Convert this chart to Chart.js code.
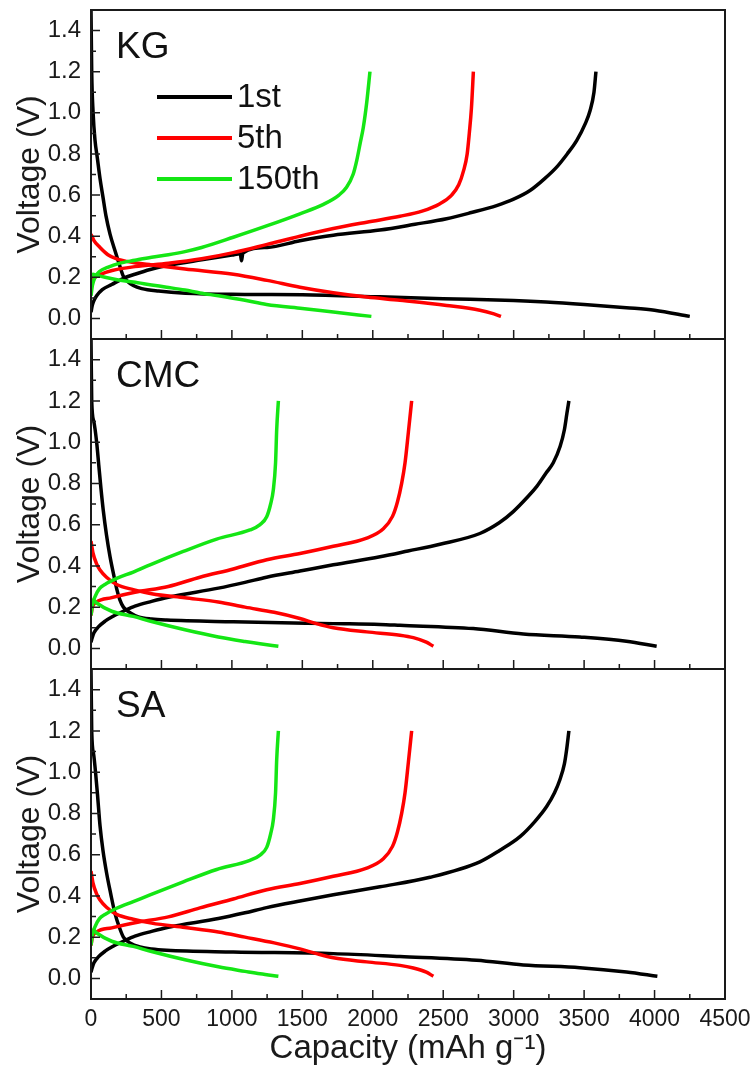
<!DOCTYPE html>
<html>
<head>
<meta charset="utf-8">
<title>Voltage profiles</title>
<script src="https://cdn.jsdelivr.net/npm/chart.js@4.4.1/dist/chart.umd.min.js"></script>
<style>
  html, body { margin: 0; padding: 0; background: #fff; }
  #page { position: relative; width: 756px; height: 1074px; }
  .panel { position: absolute; left: 0; width: 756px; }
</style>
</head>
<body>
<div id="page">
  <div class="panel" style="top:0;height:340px"><canvas id="kg"></canvas></div>
  <div class="panel" style="top:330px;height:340px"><canvas id="cmc"></canvas></div>
  <div class="panel" style="top:660px;height:414px"><canvas id="sa"></canvas></div>
</div>
<script>
// axis ticks
const xTicks = [0, 500, 1000, 1500, 2000, 2500, 3000, 3500, 4000, 4500]
const xMinorTicks = [250, 750, 1250, 1750, 2250, 2750, 3250, 3750, 4250]
const yTicks = [0, 0.2, 0.4, 0.6, 0.8, 1.0, 1.2, 1.4]
const yMinorTicks = [0.1, 0.3, 0.5, 0.7, 0.9, 1.1, 1.3]

const cycles = ['1st', '5th', '150th']
const cycleColors = ['#000000', '#ff0000', '#14e614']

// [capacity (mAh/g), voltage (V)] - discharge and charge branches
// KG
const kgDis1st = [[0,1.5],[5,1.2],[15,1.0],[28,0.87],[45,0.78],[64,0.68],[85,0.59],[106,0.5],[135,0.41],[170,0.33],[200,0.265],[230,0.205],[260,0.18],[300,0.16],[360,0.145],[480,0.133],[670,0.123],[1090,0.117],[1500,0.115],[2050,0.105],[2500,0.096],[3000,0.087],[3230,0.08],[3500,0.068],[3800,0.052],[4000,0.04],[4250,0.01]]
const kgChg1st = [[0,0.03],[8,0.06],[20,0.085],[40,0.11],[80,0.14],[147,0.165],[230,0.195],[312,0.215],[420,0.238],[549,0.258],[785,0.285],[1000,0.308],[1060,0.315],[1068,0.28],[1078,0.318],[1250,0.345],[1483,0.378],[1720,0.405],[2050,0.43],[2300,0.458],[2524,0.485],[2700,0.515],[2879,0.549],[3000,0.58],[3116,0.622],[3220,0.68],[3305,0.736],[3380,0.8],[3447,0.865],[3510,0.95],[3542,1.01],[3570,1.1],[3584,1.2]]
const kgDis5th = [[0,0.41],[20,0.38],[64,0.345],[120,0.31],[182,0.29],[300,0.272],[430,0.26],[667,0.24],[1010,0.215],[1250,0.185],[1483,0.152],[1720,0.125],[1957,0.104],[2193,0.088],[2524,0.063],[2760,0.04],[2860,0.022],[2910,0.01]]
const kgChg5th = [[0,0.15],[10,0.18],[30,0.2],[64,0.213],[150,0.233],[312,0.252],[549,0.268],[785,0.29],[1010,0.32],[1250,0.36],[1483,0.4],[1720,0.437],[1957,0.468],[2193,0.497],[2350,0.522],[2477,0.558],[2560,0.6],[2610,0.65],[2645,0.72],[2670,0.8],[2685,0.9],[2700,1.02],[2714,1.2]]
const kgDis150th = [[0,0.2],[15,0.215],[30,0.212],[100,0.2],[194,0.187],[300,0.177],[430,0.163],[537,0.152],[667,0.138],[773,0.124],[904,0.11],[1093,0.088],[1246,0.068],[1500,0.048],[1720,0.031],[1990,0.01]]
const kgChg150th = [[0,0.11],[10,0.16],[28,0.2],[60,0.228],[123,0.25],[200,0.268],[312,0.283],[430,0.298],[549,0.31],[667,0.325],[785,0.345],[1010,0.395],[1246,0.45],[1483,0.509],[1650,0.555],[1760,0.6],[1814,0.638],[1860,0.7],[1886,0.768],[1910,0.85],[1933,0.93],[1957,1.05],[1980,1.2]]

// CMC
const cmcDis1st = [[0,1.5],[5,1.2],[20,1.1],[40,1.0],[55,0.89],[70,0.78],[87,0.67],[110,0.55],[135,0.445],[160,0.36],[182,0.29],[205,0.235],[230,0.2],[280,0.172],[336,0.153],[430,0.142],[537,0.137],[1010,0.129],[1720,0.12],[2051,0.116],[2193,0.112],[2713,0.096],[3068,0.07],[3470,0.055],[3800,0.035],[4015,0.01]]
const cmcChg1st = [[0,0.03],[8,0.05],[20,0.075],[52,0.104],[100,0.132],[147,0.152],[230,0.18],[312,0.205],[430,0.228],[549,0.248],[904,0.292],[1093,0.32],[1246,0.345],[1483,0.375],[1720,0.405],[2051,0.444],[2250,0.472],[2477,0.505],[2760,0.557],[2900,0.61],[2997,0.663],[3100,0.735],[3163,0.784],[3230,0.85],[3281,0.9],[3330,0.98],[3360,1.06],[3378,1.14],[3392,1.2]]
const cmcDis5th = [[0,0.52],[15,0.46],[40,0.41],[64,0.38],[110,0.345],[182,0.31],[300,0.285],[430,0.265],[667,0.245],[904,0.225],[1093,0.2],[1300,0.175],[1483,0.145],[1600,0.12],[1720,0.1],[1957,0.08],[2193,0.064],[2288,0.052],[2380,0.03],[2430,0.01]]
const cmcChg5th = [[0,0.16],[10,0.2],[40,0.225],[147,0.246],[312,0.272],[549,0.3],[773,0.345],[1010,0.385],[1247,0.43],[1483,0.46],[1720,0.495],[1957,0.535],[2075,0.58],[2140,0.64],[2175,0.71],[2205,0.8],[2229,0.9],[2253,1.05],[2276,1.2]]
const cmcDis150th = [[0,0.21],[15,0.235],[40,0.22],[147,0.18],[300,0.155],[430,0.13],[667,0.09],[904,0.055],[1093,0.033],[1200,0.022],[1330,0.01]]
const cmcChg150th = [[0,0.16],[10,0.21],[28,0.25],[60,0.29],[99,0.31],[182,0.339],[300,0.37],[419,0.405],[655,0.47],[892,0.53],[1128,0.574],[1200,0.6],[1247,0.638],[1275,0.7],[1294,0.768],[1310,0.9],[1318,1.06],[1330,1.2]]

// SA
const saDis1st = [[0,1.5],[5,1.2],[20,1.08],[45,0.9],[64,0.74],[85,0.62],[111,0.51],[140,0.41],[170,0.315],[200,0.25],[230,0.2],[280,0.17],[348,0.152],[430,0.142],[537,0.136],[1010,0.128],[1720,0.12],[2193,0.106],[2737,0.088],[3068,0.065],[3470,0.052],[3801,0.031],[4020,0.01]]
const saChg1st = [[0,0.03],[8,0.05],[20,0.075],[52,0.104],[100,0.132],[147,0.152],[230,0.18],[312,0.205],[430,0.228],[549,0.248],[904,0.29],[1093,0.318],[1246,0.343],[1483,0.375],[1720,0.405],[2051,0.444],[2406,0.49],[2760,0.565],[2900,0.62],[3045,0.687],[3150,0.76],[3234,0.833],[3290,0.9],[3328,0.963],[3360,1.04],[3376,1.11],[3392,1.2]]
const saDis5th = [[0,0.52],[15,0.46],[40,0.41],[64,0.38],[110,0.345],[182,0.31],[300,0.287],[430,0.268],[667,0.247],[904,0.225],[1093,0.2],[1300,0.172],[1483,0.143],[1600,0.12],[1720,0.1],[1957,0.08],[2193,0.063],[2288,0.05],[2380,0.03],[2430,0.01]]
const saChg5th = [[0,0.16],[10,0.2],[40,0.225],[147,0.245],[312,0.27],[549,0.298],[773,0.342],[1010,0.385],[1247,0.43],[1483,0.46],[1720,0.495],[1957,0.535],[2075,0.58],[2140,0.64],[2175,0.71],[2205,0.8],[2229,0.9],[2253,1.05],[2276,1.2]]
const saDis150th = [[0,0.21],[15,0.235],[40,0.22],[147,0.18],[300,0.155],[430,0.13],[667,0.09],[904,0.056],[1093,0.034],[1200,0.022],[1330,0.01]]
const saChg150th = [[0,0.16],[10,0.21],[28,0.25],[60,0.29],[99,0.31],[182,0.34],[300,0.372],[419,0.405],[655,0.468],[892,0.528],[1128,0.572],[1200,0.598],[1247,0.635],[1275,0.7],[1294,0.768],[1310,0.9],[1318,1.06],[1330,1.2]]

const FONT = '"Liberation Sans", Arial, sans-serif'
Chart.defaults.font.family = FONT
Chart.defaults.color = '#1a1a1a'

// frame, inward ticks, panel name and legend
const panelDecor = {
  id: 'panelDecor',
  afterDraw(chart, args, opts) {
    const { ctx, chartArea: a, scales: { x, y } } = chart
    ctx.save()
    ctx.strokeStyle = '#1a1a1a'
    ctx.lineWidth = 2
    ctx.strokeRect(a.left, a.top, a.right - a.left, a.bottom - a.top)

    ctx.lineWidth = 1.5
    ctx.beginPath()
    yTicks.forEach(v => { const p = y.getPixelForValue(v); ctx.moveTo(a.left, p); ctx.lineTo(a.left + 9, p) })
    yMinorTicks.forEach(v => { const p = y.getPixelForValue(v); ctx.moveTo(a.left, p); ctx.lineTo(a.left + 5, p) })
    xTicks.forEach(v => { const p = x.getPixelForValue(v); ctx.moveTo(p, a.bottom); ctx.lineTo(p, a.bottom - 9) })
    xMinorTicks.forEach(v => { const p = x.getPixelForValue(v); ctx.moveTo(p, a.bottom); ctx.lineTo(p, a.bottom - 5) })
    ctx.stroke()

    ctx.fillStyle = '#111'
    ctx.font = '37px ' + FONT
    ctx.textBaseline = 'alphabetic'
    ctx.fillText(opts.label, a.left + 25, a.top + 48)

    if (opts.legend) {
      ctx.font = '33px ' + FONT
      ctx.textBaseline = 'middle'
      ctx.lineWidth = 4
      cycles.forEach((name, i) => {
        const ly = a.top + 87 + i * 41
        ctx.strokeStyle = cycleColors[i]
        ctx.beginPath()
        ctx.moveTo(a.left + 66, ly)
        ctx.lineTo(a.left + 141, ly)
        ctx.stroke()
        ctx.fillText(name, a.left + 146, ly + 1)
      })
    }
    ctx.restore()
  }
}

const toXY = pts => pts.map(([x, y]) => ({ x, y }))

function makePanel(id, label, curves, opts) {
  const datasets = []
  // green drawn on top, black at the bottom
  for (let i = curves.length - 1; i >= 0; i--) {
    curves[i].forEach(branch => {
      datasets.push({
        label: cycles[i],
        data: toXY(branch),
        borderColor: cycleColors[i],
        borderWidth: 3.5,
        pointRadius: 0,
        showLine: true,
        fill: false,
        cubicInterpolationMode: 'monotone'
      })
    })
  }

  new Chart(document.getElementById(id), {
    type: 'scatter',
    data: { datasets },
    options: {
      responsive: true,
      maintainAspectRatio: false,
      animation: false,
      events: [],
      layout: { padding: { top: opts.padTop, bottom: opts.padBottom, left: 0, right: 31 } },
      scales: {
        x: {
          type: 'linear',
          min: 0,
          max: 4500,
          display: opts.showX,
          afterBuildTicks: s => { s.ticks = xTicks.map(value => ({ value })) },
          afterFit: s => {
            if (opts.showX) s.height = 75
            s.paddingLeft = 0
            s.paddingRight = 0
          },
          grid: { display: false, drawTicks: false },
          border: { display: false },
          ticks: { padding: 7, maxRotation: 0, autoSkip: false, font: { size: 23 }, callback: v => String(v) },
          title: { display: opts.showX, text: 'Capacity (mAh g⁻¹)', font: { size: 33 }, padding: { top: 0, bottom: 5 } }
        },
        y: {
          type: 'linear',
          min: -0.1,
          max: 1.5,
          afterBuildTicks: s => { s.ticks = yTicks.map(value => ({ value })) },
          afterFit: s => {
            s.width = 91
            s.paddingTop = 0
            s.paddingBottom = 0
          },
          grid: { display: false, drawTicks: false },
          border: { display: false },
          ticks: { padding: 10, font: { size: 24 }, callback: v => v.toFixed(1) },
          title: { display: true, text: 'Voltage (V)', font: { size: 32 }, padding: { top: 11, bottom: 0 } }
        }
      },
      plugins: {
        legend: { display: false },
        tooltip: { enabled: false },
        panelDecor: { label, legend: opts.legend }
      }
    },
    plugins: [panelDecor]
  })
}

makePanel('kg', 'KG', [[kgDis1st, kgChg1st], [kgDis5th, kgChg5th], [kgDis150th, kgChg150th]],
  { legend: true, showX: false, padTop: 10, padBottom: 1 })
makePanel('cmc', 'CMC', [[cmcDis1st, cmcChg1st], [cmcDis5th, cmcChg5th], [cmcDis150th, cmcChg150th]],
  { legend: false, showX: false, padTop: 9, padBottom: 1 })
makePanel('sa', 'SA', [[saDis1st, saChg1st], [saDis5th, saChg5th], [saDis150th, saChg150th]],
  { legend: false, showX: true, padTop: 9, padBottom: 0 })
</script>
</body>
</html>
